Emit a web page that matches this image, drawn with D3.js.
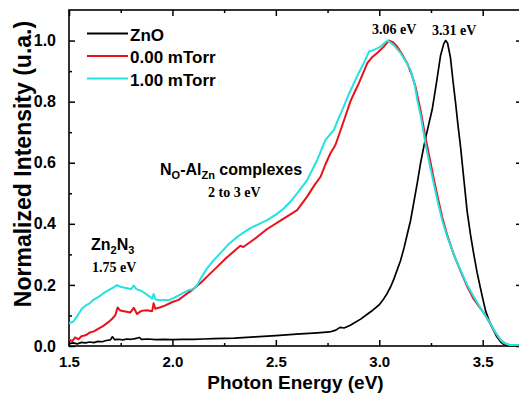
<!DOCTYPE html>
<html>
<head>
<meta charset="utf-8">
<script src="https://cdn.jsdelivr.net/npm/d3@7"></script>
<style>
  body { margin: 0; background: #fff; }
  text { font-family: "Liberation Sans", Arial, sans-serif; font-weight: bold; }
  .serif { font-family: "Liberation Serif", "Times New Roman", serif; }
</style>
</head>
<body>
<div id="chart"></div>
<script>
// ZnO reference
var znoEnergy = [1.50,1.52,1.54,1.56,1.58,1.60,1.62,1.64,1.66,1.68,1.70,1.71,1.72,1.74,1.76,1.78,1.80,1.82,1.84,1.85,1.88,1.92,1.96,2.00,2.05,2.10,2.15,2.20,2.30,2.40,2.50,2.60,2.70,2.76,2.79,2.81,2.83,2.86,2.88,2.91,2.94,2.97,3.00,3.022,3.038,3.055,3.070,3.087,3.103,3.12,3.135,3.151,3.167,3.184,3.20,3.216,3.232,3.256,3.276,3.296,3.312,3.321,3.330,3.344,3.356,3.369,3.381,3.393,3.409,3.425,3.441,3.457,3.473,3.489,3.502,3.514,3.530,3.546,3.566,3.587,3.60,3.62,3.69];
var znoIntensity = [0.008,0.010,0.007,0.012,0.010,0.013,0.011,0.015,0.014,0.018,0.020,0.030,0.021,0.022,0.020,0.023,0.022,0.024,0.028,0.022,0.023,0.021,0.022,0.021,0.022,0.022,0.023,0.024,0.026,0.030,0.034,0.039,0.043,0.046,0.052,0.061,0.059,0.068,0.076,0.088,0.103,0.118,0.135,0.155,0.172,0.194,0.218,0.250,0.280,0.322,0.365,0.410,0.470,0.535,0.600,0.655,0.705,0.775,0.860,0.950,0.990,1.000,0.992,0.945,0.870,0.795,0.720,0.652,0.545,0.440,0.365,0.300,0.240,0.190,0.150,0.115,0.085,0.060,0.033,0.013,0.006,0.002,0.002];

// 0.00 mTorr
var torr0Energy = [1.50,1.516,1.53,1.546,1.56,1.58,1.60,1.62,1.643,1.666,1.69,1.71,1.724,1.735,1.748,1.772,1.797,1.813,1.829,1.850,1.877,1.902,1.909,1.917,1.942,1.966,2.00,2.03,2.063,2.095,2.136,2.175,2.216,2.26,2.313,2.329,2.343,2.40,2.458,2.53,2.603,2.651,2.69,2.716,2.74,2.764,2.788,2.83,2.86,2.88,2.901,2.92,2.942,2.965,2.990,3.022,3.046,3.065,3.087,3.11,3.135,3.155,3.175,3.184,3.20,3.224,3.245,3.264,3.285,3.305,3.329,3.36,3.393,3.425,3.457,3.49,3.506,3.522,3.538,3.56,3.587,3.611,3.63,3.69];
var torr0Intensity = [0.022,0.016,0.028,0.022,0.032,0.035,0.044,0.048,0.057,0.066,0.078,0.090,0.101,0.126,0.116,0.113,0.110,0.125,0.105,0.115,0.117,0.114,0.140,0.122,0.127,0.133,0.144,0.151,0.168,0.183,0.206,0.232,0.259,0.288,0.319,0.328,0.324,0.352,0.383,0.414,0.445,0.489,0.530,0.554,0.595,0.631,0.658,0.740,0.800,0.830,0.860,0.890,0.926,0.945,0.959,0.980,1.000,0.995,0.980,0.955,0.926,0.892,0.849,0.820,0.770,0.680,0.610,0.545,0.480,0.420,0.362,0.300,0.245,0.195,0.153,0.122,0.108,0.090,0.071,0.045,0.019,0.007,0.003,0.003];

// 1.00 mTorr
var torr1Energy = [1.50,1.52,1.54,1.563,1.58,1.60,1.62,1.643,1.665,1.692,1.715,1.732,1.745,1.758,1.775,1.788,1.80,1.813,1.826,1.85,1.869,1.885,1.902,1.909,1.917,1.94,1.96,1.982,2.005,2.030,2.055,2.079,2.103,2.12,2.135,2.168,2.20,2.232,2.27,2.313,2.345,2.377,2.42,2.458,2.50,2.538,2.57,2.603,2.651,2.70,2.74,2.78,2.80,2.828,2.85,2.877,2.90,2.925,2.95,2.966,2.985,3.006,3.025,3.041,3.069,3.103,3.13,3.151,3.17,3.184,3.20,3.224,3.245,3.264,3.285,3.305,3.329,3.36,3.393,3.425,3.457,3.48,3.506,3.522,3.538,3.56,3.587,3.603,3.635,3.69];
var torr1Intensity = [0.074,0.080,0.098,0.123,0.132,0.140,0.152,0.161,0.172,0.183,0.192,0.199,0.195,0.192,0.190,0.188,0.186,0.198,0.186,0.180,0.172,0.164,0.155,0.170,0.153,0.150,0.151,0.150,0.157,0.166,0.175,0.183,0.186,0.200,0.219,0.255,0.281,0.304,0.332,0.357,0.372,0.386,0.400,0.412,0.430,0.450,0.472,0.500,0.543,0.609,0.675,0.707,0.740,0.784,0.820,0.860,0.893,0.926,0.964,0.967,0.973,0.980,0.992,1.000,0.986,0.959,0.930,0.904,0.860,0.805,0.755,0.660,0.590,0.530,0.465,0.410,0.357,0.300,0.248,0.200,0.161,0.135,0.106,0.090,0.073,0.046,0.019,0.010,0.003,0.003];

var seriesNames = ["ZnO", "0.00 mTorr", "1.00 mTorr"];
var seriesColors = ["#000000", "#e8121a", "#22e2e2"];

var xTicks = [1.5, 2.0, 2.5, 3.0, 3.5];
var yTicks = [0.0, 0.2, 0.4, 0.6, 0.8, 1.0];

var svgWidth = 519;
var svgHeight = 396;

var margin = { top: 10, right: 522, bottom: 346, left: 69 };

var svg = d3.select("#chart")
    .append("svg")
    .attr("width", svgWidth)
    .attr("height", svgHeight);

var xScale = d3.scaleLinear()
    .domain([1.5, 3.69])
    .range([margin.left, margin.right]);

var yScale = d3.scaleLinear()
    .domain([0, 1.1])
    .range([margin.bottom, margin.top]);

var xMinor = d3.range(1.75, 3.69, 0.5);
var yMinor = d3.range(0.1, 1.1, 0.2);

// ticks on all four sides, pointing in
function tickGroup(axis, transform) {
    var g = svg.append("g").attr("transform", transform).call(axis);
    g.select(".domain").remove();
    g.selectAll("line").attr("stroke", "#000").attr("stroke-width", 1.5);
    return g;
}

var bottomG = tickGroup(d3.axisBottom(xScale).tickValues(xTicks).tickSize(-6).tickSizeOuter(0).tickPadding(10).tickFormat(d3.format(".1f")),
    `translate(0,${margin.bottom})`);
tickGroup(d3.axisBottom(xScale).tickValues(xMinor).tickSize(-3).tickFormat(""), `translate(0,${margin.bottom})`);
tickGroup(d3.axisTop(xScale).tickValues(xTicks).tickSize(-6).tickFormat(""), `translate(0,${margin.top})`);
tickGroup(d3.axisTop(xScale).tickValues(xMinor).tickSize(-3).tickFormat(""), `translate(0,${margin.top})`);

var leftG = tickGroup(d3.axisLeft(yScale).tickValues(yTicks).tickSize(-6).tickPadding(13).tickFormat(d3.format(".1f")),
    `translate(${margin.left},0)`);
tickGroup(d3.axisLeft(yScale).tickValues(yMinor).tickSize(-3).tickFormat(""), `translate(${margin.left},0)`);
tickGroup(d3.axisRight(yScale).tickValues(yTicks).tickSize(-6).tickFormat(""), `translate(${margin.right},0)`);
tickGroup(d3.axisRight(yScale).tickValues(yMinor).tickSize(-3).tickFormat(""), `translate(${margin.right},0)`);

bottomG.selectAll("text")
    .attr("font-size", "15px")
    .attr("font-family", "Liberation Sans, Arial, sans-serif")
    .attr("font-weight", "bold")
    .attr("fill", "#000");

leftG.selectAll("text")
    .attr("font-size", "16px")
    .attr("font-family", "Liberation Sans, Arial, sans-serif")
    .attr("font-weight", "bold")
    .attr("fill", "#000");

// frame
svg.append("rect")
    .attr("x", margin.left)
    .attr("y", margin.top)
    .attr("width", margin.right - margin.left)
    .attr("height", margin.bottom - margin.top)
    .attr("fill", "none")
    .attr("stroke", "#000")
    .attr("stroke-width", 1.6);

// curves
var line = d3.line()
    .x(d => xScale(d[0]))
    .y(d => yScale(d[1]));

var curves = [
    d3.zip(znoEnergy, znoIntensity),
    d3.zip(torr0Energy, torr0Intensity),
    d3.zip(torr1Energy, torr1Intensity)
];

svg.append("g")
    .selectAll("path")
    .data(curves)
    .enter()
    .append("path")
    .attr("d", line)
    .attr("fill", "none")
    .attr("stroke", (d, i) => seriesColors[i])
    .attr("stroke-width", (d, i) => i === 0 ? 1.7 : 2)
    .attr("stroke-linejoin", "round");

// legend
var legend = svg.append("g")
    .selectAll("g")
    .data(seriesNames)
    .enter()
    .append("g")
    .attr("transform", (d, i) => `translate(87,${33.5 + i * 22.5})`);

legend.append("line")
    .attr("x1", 0)
    .attr("x2", 41)
    .attr("stroke", (d, i) => seriesColors[i])
    .attr("stroke-width", 2);

legend.append("text")
    .attr("x", 43)
    .attr("y", 7)
    .attr("font-size", "17px")
    .text(d => d);

// annotations
svg.append("text").attr("class", "serif").attr("x", 372).attr("y", 34)
    .attr("font-size", "14px").text("3.06 eV");
svg.append("text").attr("class", "serif").attr("x", 432).attr("y", 35)
    .attr("font-size", "14px").text("3.31 eV");

var complexLabel = svg.append("text").attr("x", 160).attr("y", 175).attr("font-size", "16px");
complexLabel.append("tspan").text("N");
complexLabel.append("tspan").attr("font-size", "11px").attr("dy", 4).text("O");
complexLabel.append("tspan").attr("dy", -4).text("-Al");
complexLabel.append("tspan").attr("font-size", "11px").attr("dy", 4).text("Zn");
complexLabel.append("tspan").attr("dy", -4).text(" complexes");

svg.append("text").attr("class", "serif").attr("x", 208).attr("y", 197)
    .attr("font-size", "14px").text("2 to 3 eV");

var znLabel = svg.append("text").attr("x", 91).attr("y", 250).attr("font-size", "16px");
znLabel.append("tspan").text("Zn");
znLabel.append("tspan").attr("font-size", "11px").attr("dy", 4).text("2");
znLabel.append("tspan").attr("dy", -4).text("N");
znLabel.append("tspan").attr("font-size", "11px").attr("dy", 4).text("3");

svg.append("text").attr("class", "serif").attr("x", 92).attr("y", 272)
    .attr("font-size", "14px").text("1.75 eV");

// axis titles
svg.append("text")
    .attr("x", (margin.left + margin.right) / 2)
    .attr("y", 389)
    .attr("text-anchor", "middle")
    .attr("font-size", "19px")
    .text("Photon Energy (eV)");

svg.append("text")
    .attr("transform", "translate(31,164) rotate(-90)")
    .attr("text-anchor", "middle")
    .attr("font-size", "23px")
    .text("Normalized Intensity (u.a.)");
</script>
</body>
</html>
